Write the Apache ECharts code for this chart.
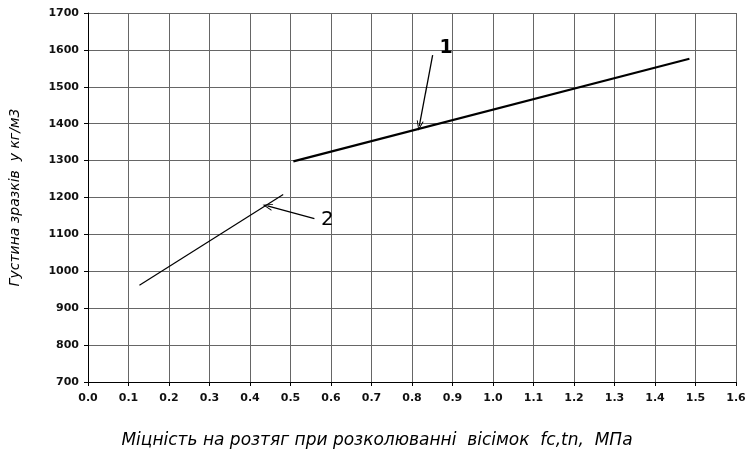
<!DOCTYPE html>
<html><head><meta charset="utf-8">
<script src="https://cdn.jsdelivr.net/npm/echarts@6/dist/echarts.min.js"></script>
<style>html,body{margin:0;padding:0;background:#fff}#c{width:750px;height:454px}</style>
</head><body><div id="c"></div>
<script>
// Curve 1
const line1X = [0.507, 1.485];
const line1Y = [1298, 1576];
// Curve 2
const line2X = [0.127, 0.482];
const line2Y = [962, 1208];
// Annotation arrows: [startX, startY, endX, endY]
const arrow1 = [0.851, 1586, 0.818, 1394];
const arrow2 = [0.559, 1143, 0.443, 1177];
// Annotation labels
const labelTexts = ['1', '2'];
const labelX = [0.884, 0.591];
const labelY = [1605, 1139];
const labelBold = [true, false];
const xTitle = 'Міцність на розтяг при розколюванні  вісімок  fc,tn,  МПа';
const yTitle = 'Густина зразків  у кг/м3';

const chart = echarts.init(document.getElementById('c'), null, {renderer: 'canvas'});
const arrowHead = 'path://M5,0 L0,10 L1.4,10 L5,2.8 L8.6,10 L10,10 Z';
const mkArrow = a => ({
  type: 'line', data: [], silent: true,
  markLine: {
    silent: true, symbol: ['none', arrowHead], symbolSize: [7, 10],
    lineStyle: {color: '#000', width: 1.3, type: 'solid'}, label: {show: false},
    data: [[{coord: [a[0], a[1]]}, {coord: [a[2], a[3]]}]]
  }
});
chart.setOption({
  animation: false,
  grid: {left: 86, right: 14, top: 13, bottom: 69},
  xAxis: {
    type: 'value', min: 0, max: 1.6, interval: 0.1,
    name: xTitle, nameLocation: 'middle', nameGap: 50,
    nameTextStyle: {fontFamily: 'DejaVu Sans', fontStyle: 'italic', fontSize: 17, color: '#000', padding: [0, 70, 0, 0]},
    axisLine: {lineStyle: {color: '#000', width: 1}},
    axisTick: {show: true, length: 4, lineStyle: {color: '#000'}},
    axisLabel: {formatter: v => v.toFixed(1), fontFamily: 'DejaVu Sans', fontWeight: 'bold', fontSize: 11, color: '#111', margin: 11},
    splitLine: {lineStyle: {color: '#666', width: 1}}
  },
  yAxis: {
    type: 'value', min: 700, max: 1700, interval: 100,
    name: yTitle, nameLocation: 'middle', nameGap: 66,
    nameTextStyle: {fontFamily: 'DejaVu Sans', fontStyle: 'italic', fontSize: 14, color: '#000'},
    axisLine: {show: true, lineStyle: {color: '#000', width: 1}},
    axisTick: {show: true, length: 4, lineStyle: {color: '#000'}},
    axisLabel: {formatter: v => String(v), fontFamily: 'DejaVu Sans', fontWeight: 'bold', fontSize: 11, color: '#111', margin: 9},
    splitLine: {lineStyle: {color: '#666', width: 1}}
  },
  series: [
    {type: 'line', data: line1X.map((x, i) => [x, line1Y[i]]), showSymbol: false, lineStyle: {color: '#000', width: 2.2}},
    {type: 'line', data: line2X.map((x, i) => [x, line2Y[i]]), showSymbol: false, lineStyle: {color: '#000', width: 1.2}},
    mkArrow(arrow1),
    mkArrow(arrow2),
    {type: 'scatter', symbolSize: 1, silent: true, itemStyle: {opacity: 1, color: 'rgba(0,0,0,0)'},
     data: labelTexts.map((t, i) => ({
       value: [labelX[i], labelY[i]], name: t,
       label: {fontWeight: labelBold[i] ? 'bold' : 'normal', fontSize: labelBold[i] ? 19 : 20, color: '#000'}
     })),
     label: {show: true, position: 'inside', formatter: p => p.name, fontFamily: 'DejaVu Sans', color: '#000', textBorderWidth: 0}}
  ]
});
</script></body></html>
